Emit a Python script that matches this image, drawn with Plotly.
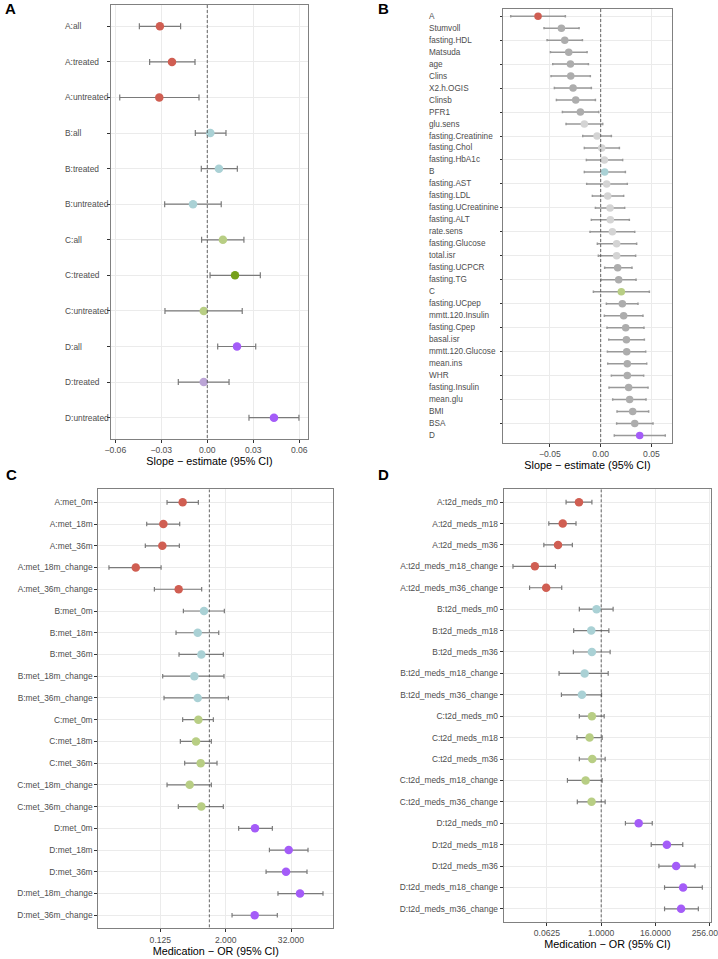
import math
import plotly.graph_objects as go

# ---------------- data ----------------
A_labels = ["A:all", "A:treated", "A:untreated", "B:all", "B:treated", "B:untreated",
            "C:all", "C:treated", "C:untreated", "D:all", "D:treated", "D:untreated"]
A_est = [-0.0309, -0.0230, -0.0313, 0.0020, 0.0076, -0.0093, 0.0102, 0.0181, -0.0023, 0.0194, -0.0023, 0.0435]
A_lo = [-0.0443, -0.0376, -0.0571, -0.0078, -0.0039, -0.0278, -0.0037, 0.0018, -0.0276, 0.0068, -0.0189, 0.0272]
A_hi = [-0.0174, -0.0080, -0.0054, 0.0122, 0.0196, 0.0091, 0.0239, 0.0346, 0.0228, 0.0316, 0.0142, 0.0598]

B_labels = ["A", "Stumvoll", "fasting.HDL", "Matsuda", "age", "Clins", "X2.h.OGIS", "Clinsb", "PFR1",
            "glu.sens", "fasting.Creatinine", "fasting.Chol", "fasting.HbA1c", "B", "fasting.AST",
            "fasting.LDL", "fasting.UCreatinine", "fasting.ALT", "rate.sens", "fasting.Glucose",
            "total.isr", "fasting.UCPCR", "fasting.TG", "C", "fasting.UCpep", "mmtt.120.Insulin",
            "fasting.Cpep", "basal.isr", "mmtt.120.Glucose", "mean.ins", "WHR", "fasting.Insulin",
            "mean.glu", "BMI", "BSA", "D"]
B_est = [-0.0617, -0.0387, -0.0354, -0.0315, -0.0298, -0.0295, -0.0272, -0.0246, -0.0200,
         -0.0161, -0.0036, 0.0010, 0.0036, 0.0039, 0.0059,
         0.0069, 0.0092, 0.0095, 0.0115, 0.0157,
         0.0157, 0.0167, 0.0177, 0.0203, 0.0213, 0.0226,
         0.0246, 0.0253, 0.0256, 0.0262, 0.0262, 0.0275,
         0.0285, 0.0315, 0.0335, 0.0384]
B_lo = [-0.0886, -0.0558, -0.0528, -0.0495, -0.0472, -0.0489, -0.0456, -0.0436, -0.0377,
        -0.0341, -0.0177, -0.0161, -0.0141, -0.0161, -0.0138,
        -0.0082, -0.0052, -0.0092, -0.0105, -0.0033,
        -0.0023, 0.0039, 0.0003, -0.0072, 0.0056, 0.0036,
        0.0062, 0.0079, 0.0066, 0.0069, 0.0105, 0.0082,
        0.0118, 0.0161, 0.0157, 0.0134]
B_hi = [-0.0348, -0.0213, -0.0180, -0.0134, -0.0121, -0.0102, -0.0092, -0.0052, -0.0020,
        0.0020, 0.0105, 0.0184, 0.0216, 0.0243, 0.0262,
        0.0226, 0.0236, 0.0282, 0.0335, 0.0354,
        0.0344, 0.0308, 0.0348, 0.0479, 0.0367, 0.0416,
        0.0426, 0.0430, 0.0443, 0.0453, 0.0423, 0.0466,
        0.0446, 0.0472, 0.0515, 0.0636]

C_labels = ["A:met_0m", "A:met_18m", "A:met_36m", "A:met_18m_change", "A:met_36m_change",
            "B:met_0m", "B:met_18m", "B:met_36m", "B:met_18m_change", "B:met_36m_change",
            "C:met_0m", "C:met_18m", "C:met_36m", "C:met_18m_change", "C:met_36m_change",
            "D:met_0m", "D:met_18m", "D:met_36m", "D:met_18m_change", "D:met_36m_change"]
C_or = [0.322, 0.142, 0.136, 0.0440, 0.272,
        0.797, 0.610, 0.712, 0.529, 0.610,
        0.627, 0.568, 0.692, 0.434, 0.712,
        6.94, 29.0, 25.9, 46.9, 6.85]
C_lo = [0.166, 0.070, 0.066, 0.0141, 0.097,
        0.332, 0.243, 0.276, 0.138, 0.146,
        0.322, 0.292, 0.351, 0.166, 0.268,
        3.47, 12.8, 11.1, 18.4, 2.62]
C_hi = [0.627, 0.284, 0.280, 0.129, 0.722,
        1.89, 1.49, 1.81, 1.86, 2.24,
        1.185, 1.088, 1.384, 1.088, 1.81,
        14.5, 65.9, 63.1, 124.4, 17.9]

D_labels = ["A:t2d_meds_m0", "A:t2d_meds_m18", "A:t2d_meds_m36", "A:t2d_meds_m18_change", "A:t2d_meds_m36_change",
            "B:t2d_meds_m0", "B:t2d_meds_m18", "B:t2d_meds_m36", "B:t2d_meds_m18_change", "B:t2d_meds_m36_change",
            "C:t2d_meds_m0", "C:t2d_meds_m18", "C:t2d_meds_m36", "C:t2d_meds_m18_change", "C:t2d_meds_m36_change",
            "D:t2d_meds_m0", "D:t2d_meds_m18", "D:t2d_meds_m36", "D:t2d_meds_m18_change", "D:t2d_meds_m36_change"]
D_or = [0.321, 0.140, 0.110, 0.0337, 0.0600,
        0.789, 0.602, 0.622, 0.429, 0.374,
        0.622, 0.552, 0.633, 0.451, 0.612,
        6.79, 28.7, 46.1, 65.8, 59.4]
D_lo = [0.166, 0.0687, 0.0533, 0.0110, 0.0257,
        0.327, 0.245, 0.241, 0.116, 0.131,
        0.327, 0.290, 0.327, 0.178, 0.295,
        3.45, 12.9, 19.1, 25.5, 25.5]
D_hi = [0.622, 0.276, 0.229, 0.0963, 0.133,
        1.84, 1.48, 1.58, 1.43, 1.017,
        1.165, 1.052, 1.225, 1.052, 1.225,
        13.6, 64.7, 121.0, 175.7, 143.4]

A_ticks = [-0.06, -0.03, 0.0, 0.03, 0.06]
A_ticktext = ["\u22120.06", "\u22120.03", "0.00", "0.03", "0.06"]
B_ticks = [-0.05, 0.0, 0.05]
B_ticktext = ["\u22120.05", "0.00", "0.05"]
C_ticks = [0.125, 2, 32]
C_ticktext = ["0.125", "2.000", "32.000"]
D_ticks = [0.0625, 1, 16, 256]
D_ticktext = ["0.0625", "1.0000", "16.0000", "256.0000"]

# ---------------- style ----------------
W, H = 718, 959
FONT = "Liberation Sans, Arial, sans-serif"
FULL = {"A": "#D05E52", "B": "#5FA9B4", "C": "#76A01A", "D": "#A45CF8", "G": "#ADADAD"}
LIGHT = {"A": "#E6A59E", "B": "#AAD1D5", "C": "#B8CE84", "D": "#BBA4D6", "G": "#D4D4D4"}
GRID = "#EBEBEB"
BORDER = "#808080"
TICKC = "#4D4D4D"


def px_x(a, b):
    return [a / W, b / W]


def px_y(top, bottom):
    return [1 - bottom / H, 1 - top / H]


def colors(labels, lo, hi, ref, grey_mode=False):
    out = []
    for lab, l, h in zip(labels, lo, hi):
        sig = (l > ref) or (h < ref)
        if grey_mode:
            g = lab if lab in ("A", "B", "C", "D") else "G"
        else:
            g = lab[0]
        out.append(FULL[g] if sig else LIGHT[g])
    return out


fig = go.Figure()

panels = [
    dict(key="", labels=A_labels, est=A_est, lo=A_lo, hi=A_hi, ref=0.0, grey=False,
         msize=8.5, ecol="#7A7A7A", ew=1.2, cap=3),
    dict(key="2", labels=B_labels, est=B_est, lo=B_lo, hi=B_hi, ref=0.0, grey=True,
         msize=7.5, ecol="#999999", ew=1.5, cap=1.2),
    dict(key="3", labels=C_labels, est=C_or, lo=C_lo, hi=C_hi, ref=1.0, grey=False,
         msize=8.5, ecol="#7A7A7A", ew=1.2, cap=2.3),
    dict(key="4", labels=D_labels, est=D_or, lo=D_lo, hi=D_hi, ref=1.0, grey=False,
         msize=8.5, ecol="#7A7A7A", ew=1.2, cap=2.3),
]

for p in panels:
    cols = colors(p["labels"], p["lo"], p["hi"], p["ref"], p["grey"])
    fig.add_trace(go.Scatter(
        x=p["est"], y=p["labels"], mode="markers",
        xaxis="x" + p["key"], yaxis="y" + p["key"],
        marker=dict(size=p["msize"], color=cols, line=dict(width=0)),
        error_x=dict(type="data", symmetric=False,
                     array=[h - e for h, e in zip(p["hi"], p["est"])],
                     arrayminus=[e - l for e, l in zip(p["est"], p["lo"])],
                     color=p["ecol"], thickness=p["ew"], width=p["cap"]),
        showlegend=False, hoverinfo="x+y",
    ))

common_x = dict(showgrid=True, gridcolor=GRID, gridwidth=1, zeroline=False, automargin=False,
                showline=True, mirror=True, linecolor=BORDER, linewidth=1,
                ticks="outside", ticklen=3, tickcolor="#333333", tickwidth=0.8,
                tickfont=dict(family=FONT, size=8.6, color=TICKC),
                title=dict(font=dict(family=FONT, size=10.8, color="#000000"), standoff=1))
common_y = dict(type="category", categoryorder="array", showgrid=True, gridcolor=GRID, gridwidth=1,
                zeroline=False, showline=True, mirror=True, linecolor=BORDER, linewidth=1,
                automargin=False,
                ticks="outside", ticklen=3, tickcolor="#333333", tickwidth=0.8,
                tickfont=dict(family=FONT, size=8.4, color=TICKC))

lay = {}
# Panel A
lay["xaxis"] = dict(common_x, domain=px_x(111, 308), anchor="y", range=[-0.0628, 0.0657],
                    tickvals=A_ticks, ticktext=A_ticktext,
                    title=dict(common_x["title"], text="Slope \u2212 estimate (95% CI)"))
lay["yaxis"] = dict(common_y, domain=px_y(5, 439), anchor="x", categoryarray=A_labels,
                    range=[len(A_labels) - 0.4, -0.6], showticklabels=False)
# Panel B
lay["xaxis2"] = dict(common_x, domain=px_x(502.7, 672.3), anchor="y2", range=[-0.0965, 0.0705],
                     tickvals=B_ticks, ticktext=B_ticktext,
                     title=dict(common_x["title"], text="Slope \u2212 estimate (95% CI)"))
lay["yaxis2"] = dict(common_y, domain=px_y(9, 442.7), anchor="x2", categoryarray=B_labels,
                     range=[len(B_labels) - 0.4, -0.6], showticklabels=False, ticklen=2)
# Panel C
lay["xaxis3"] = dict(common_x, type="log", domain=px_x(98.3, 333.3), anchor="y3",
                     range=[-6.8 * math.log10(2), 7.59 * math.log10(2)],
                     tickvals=C_ticks, ticktext=C_ticktext,
                     title=dict(common_x["title"], text="Medication \u2212 OR (95% CI)"))
lay["yaxis3"] = dict(common_y, domain=px_y(489.3, 928.3), anchor="x3", categoryarray=C_labels,
                     range=[len(C_labels) - 0.4, -0.6])
# Panel D
lay["xaxis4"] = dict(common_x, type="log", domain=px_x(503.7, 711.3), anchor="y4",
                     range=[-7.19 * math.log10(2), 8.12 * math.log10(2)],
                     tickvals=D_ticks, ticktext=D_ticktext, ticklabeloverflow="allow",
                     title=dict(common_x["title"], text="Medication \u2212 OR (95% CI)"))
lay["yaxis4"] = dict(common_y, domain=px_y(489.3, 921.7), anchor="x4", categoryarray=D_labels,
                     range=[len(D_labels) - 0.4, -0.6])

annotations = []
# left-aligned y labels for panels A and B
for lab in A_labels:
    annotations.append(dict(text=lab, xref="x domain", yref="y", x=(62.7 - 111) / 197, y=lab,
                            xanchor="left", yanchor="middle", showarrow=False,
                            font=dict(family=FONT, size=8.4, color=TICKC)))
for lab in B_labels:
    annotations.append(dict(text=lab, xref="x2 domain", yref="y2", x=(426.7 - 502.7) / 169.6, y=lab,
                            xanchor="left", yanchor="middle", showarrow=False,
                            font=dict(family=FONT, size=8.2, color=TICKC)))
# panel letters
for letter, xx, yy in [("A", 2.5, 8.5), ("B", 376, 8.5), ("C", 3.5, 474), ("D", 375.5, 475)]:
    annotations.append(dict(text="<b>%s</b>" % letter, xref="paper", yref="paper",
                            x=xx / W, y=1 - yy / H, xanchor="left", yanchor="middle",
                            showarrow=False, font=dict(family=FONT, size=15, color="#000000")))

shapes = []
for key, ref, n in [("", 0.0, len(A_labels)), ("2", 0.0, len(B_labels)),
                    ("3", 1.0, len(C_labels)), ("4", 1.0, len(D_labels))]:
    shapes.append(dict(type="line", xref="x" + key, yref="y" + key,
                       x0=ref, x1=ref, y0=-0.6, y1=n - 0.4, layer="above",
                       line=dict(color="#555555", width=0.9, dash="3px,2px")))

fig.update_layout(
    width=W, height=H, margin=dict(l=0, r=0, t=0, b=0, autoexpand=False),
    paper_bgcolor="white", plot_bgcolor="white",
    font=dict(family=FONT),
    annotations=annotations, shapes=shapes, showlegend=False,
    **lay,
)

fig.write_html("out.html", config={"displayModeBar": False},
               post_script="document.body.style.margin='0px';document.body.style.padding='0px';")
